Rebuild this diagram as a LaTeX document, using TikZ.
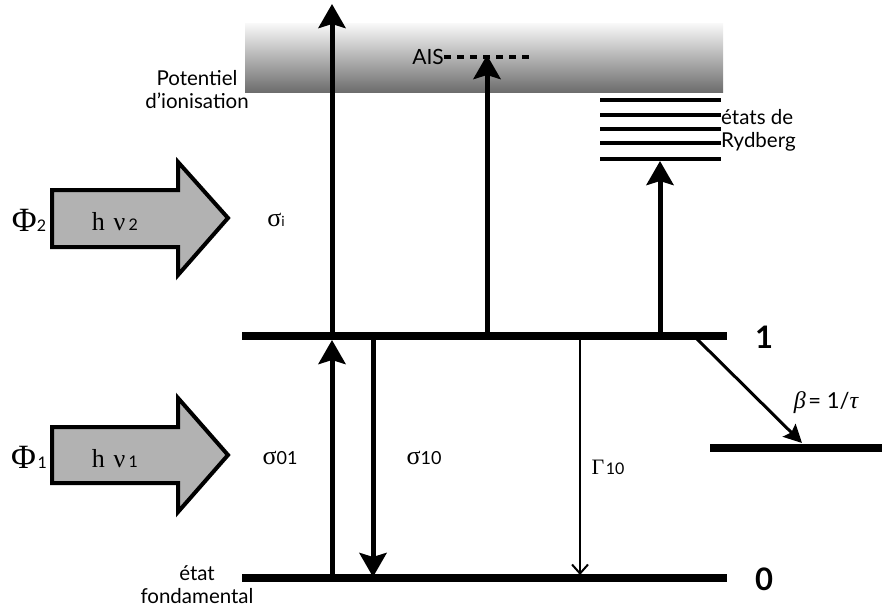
\documentclass[tikz,border=0pt]{standalone}
\usepackage{fontspec}
\setmainfont{Lato}
\newfontfamily\serif{Liberation Serif}
\usetikzlibrary{arrows.meta}
\tikzset{
  levelline/.style={line width=8pt},
  rydline/.style={line width=4pt},
  bigarrow/.style={line width=5pt,-{Stealth[width=27pt,length=24pt,inset=4pt]}},
  thinarrow/.style={line width=2pt,-{Straight Barb[width=16pt,length=9pt,line width=2pt]}},
  betaarrow/.style={line width=3pt,-{Stealth[width=18pt,length=18pt,inset=3pt]}},
  photon/.style={line width=4pt,fill=black!30,line join=miter},
  lbl/.style={inner sep=0pt,font=\fontsize{21}{21}\selectfont},
  lbltwo/.style={inner sep=0pt,font=\fontsize{20.5}{23}\selectfont},
}
\begin{document}
\begin{tikzpicture}[x=1pt,y=-1pt]
\useasboundingbox (0,0) rectangle (882,607);
% ionisation continuum
\shade[top color=black!3,bottom color=black!58] (245,24) rectangle (723,93);
% levels
\coordinate (L1a) at (242,336); \coordinate (L1b) at (727,336);
\coordinate (L0a) at (242,578); \coordinate (L0b) at (727,578);
\coordinate (Lsa) at (710,448); \coordinate (Lsb) at (882,448);
\draw[levelline] (L1a) -- (L1b);
\draw[levelline] (L0a) -- (L0b);
\draw[levelline] (Lsa) -- (Lsb);
\node[inner sep=0pt,font=\bfseries\fontsize{31}{31}\selectfont] (n1) at (764,337) {1};
\node[inner sep=0pt,font=\bfseries\fontsize{31}{31}\selectfont] (n0) at (764,579) {0};
% Rydberg states
\foreach \y [count=\i] in {100,115,129,143,159} {
  \coordinate (Ra\i) at (600,\y); \coordinate (Rb\i) at (721,\y);
  \draw[rydline] (Ra\i) -- (Rb\i);
}
% AIS
\node[lbl,anchor=east] (ais) at (444,57) {AIS};
\coordinate (aisend) at (530,57);
\draw[line width=3.5pt,dash pattern=on 7pt off 6pt] (ais.east) -- (aisend);
% vertical transitions
\coordinate (u0) at (332,578); \coordinate (u1) at (332,336);
\coordinate (utop) at (332,4);
\draw[bigarrow] (u0) -- (332,340);
\draw[bigarrow] (u1) -- (utop);
\coordinate (d1) at (373,336); \coordinate (d0) at (373,577);
\draw[bigarrow] (d1) -- (d0);
\coordinate (a1) at (487,336); \coordinate (a2) at (487,55);
\draw[bigarrow] (a1) -- (a2);
\coordinate (r1) at (660,336);
\draw[bigarrow] (r1) -- (660,161);
\coordinate (g1) at (580,336); \coordinate (g0) at (580,575);
\draw[thinarrow] (g1) -- (g0);
\coordinate (b1) at (697,339); \coordinate (b2) at (802,443);
\draw[betaarrow] (b1) -- (b2);
% photon arrows
\draw[photon] (52,190) -- (178,190) -- (178,162) -- (228,218) -- (178,275) -- (178,247) -- (52,247) -- cycle;
\draw[photon] (52,427) -- (178,427) -- (178,398) -- (228,455) -- (178,512) -- (178,483) -- (52,483) -- cycle;
\node[inner sep=0pt] (hv2) at (115,222) {{\serif\fontsize{26}{26}\selectfont h\,\,ν}\,\,{\fontsize{16}{16}\selectfont 2}};
\node[inner sep=0pt] (hv1) at (115,459) {{\serif\fontsize{26}{26}\selectfont h\,\,ν}\,\,{\fontsize{16}{16}\selectfont 1}};
\node[inner sep=0pt] (phi2) at (29,220) {{\serif\fontsize{34}{34}\selectfont Φ}{\fontsize{16}{16}\selectfont 2}};
\node[inner sep=0pt] (phi1) at (29,457) {{\serif\fontsize{34}{34}\selectfont Φ}\,{\fontsize{16}{16}\selectfont 1}};
% cross sections
\node[inner sep=0pt] (si) at (276,220) {{\serif\fontsize{26}{26}\selectfont σ}{\fontsize{14}{14}\selectfont i}};
\node[inner sep=0pt] (s01) at (280,458) {{\serif\fontsize{26}{26}\selectfont σ}{\fontsize{18}{18}\selectfont 01}};
\node[inner sep=0pt] (s10) at (424,458) {{\serif\fontsize{26}{26}\selectfont σ}{\fontsize{18}{18}\selectfont 10}};
\node[inner sep=0pt] (G10) at (608,467) {{\serif\fontsize{22}{22}\selectfont Γ}\,{\fontsize{16}{16}\selectfont 10}};
\node[inner sep=0pt] (beta) at (826,403) {{\serif\itshape\fontsize{24}{24}\selectfont β} {\fontsize{22}{22}\selectfont = 1/}{\serif\itshape\fontsize{24}{24}\selectfont τ}};
% text labels
\node[lbltwo,align=center] (pot) at (197,90) {Potentiel\\d’ionisation};
\node[lbltwo,align=left,anchor=west] (ryd) at (721,130) {états de\\Rydberg};
\node[lbltwo,align=center] (fond) at (197,585) {état\\fondamental};
\end{tikzpicture}
\end{document}
